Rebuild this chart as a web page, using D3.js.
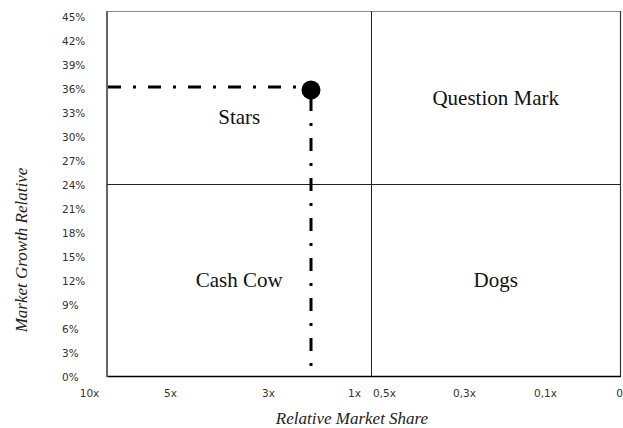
<!DOCTYPE html>
<html>
<head>
<meta charset="utf-8">
<script src="https://cdn.jsdelivr.net/npm/d3@7"></script>
<style>
  html, body { margin: 0; padding: 0; background: #fff; }
  svg { display: block; }
</style>
</head>
<body>
<svg id="chart" width="623" height="428"></svg>
<script>
// BCG growth-share matrix with one product position

// Relative market share ticks (high share on the left)
const shareTicks = [10, 5, 3, 1, 0.5, 0.3, 0.1, 0];
const shareTickLabels = ["10x", "5x", "3x", "1x", "0,5x", "0,3x", "0,1x", "0"];

// Market growth ticks (percent)
const growthTicks = [0, 3, 6, 9, 12, 15, 18, 21, 24, 27, 30, 33, 36, 39, 42, 45];

// Quadrant names: [top-left, top-right, bottom-left, bottom-right]
const quadrantNames = ["Stars", "Question Mark", "Cash Cow", "Dogs"];

// Product position
const productShare = [2];
const productGrowth = [36];

// Quadrant split values
const shareSplit = [0.72];
const growthSplit = [24];

const svg = d3.select("#chart");

// Layout
const frame = { left: 107, right: 620, top: 11, bottom: 376 };

const x = d3.scaleLinear()
  .domain(shareTicks)
  .range([89, 170, 268, 354, 384, 464, 545, 619]);

const y = d3.scaleLinear()
  .domain([0, 45])
  .range([frame.bottom, frame.top + 5]);

// Plot frame
const g = svg.append("g");
g.append("line") // top
  .attr("x1", frame.left).attr("x2", frame.right)
  .attr("y1", frame.top + 0.5).attr("y2", frame.top + 0.5)
  .attr("stroke", "#8a8a8a").attr("stroke-width", 1);
g.append("line") // right
  .attr("x1", frame.right + 0.5).attr("x2", frame.right + 0.5)
  .attr("y1", frame.top).attr("y2", frame.bottom)
  .attr("stroke", "#333").attr("stroke-width", 1.2);
g.append("line") // bottom
  .attr("x1", frame.left).attr("x2", frame.right + 1)
  .attr("y1", frame.bottom + 0.5).attr("y2", frame.bottom + 0.5)
  .attr("stroke", "#000").attr("stroke-width", 1.4);
g.append("line") // left
  .attr("x1", frame.left).attr("x2", frame.left)
  .attr("y1", frame.top).attr("y2", frame.bottom + 1)
  .attr("stroke", "#666").attr("stroke-width", 2);

// Quadrant dividers
const xSplit = Math.round(x(shareSplit[0])) + 0.5;
const ySplit = Math.round(y(growthSplit[0])) + 0.5;
g.append("line")
  .attr("x1", xSplit).attr("x2", xSplit)
  .attr("y1", frame.top).attr("y2", frame.bottom)
  .attr("stroke", "#222").attr("stroke-width", 1);
g.append("line")
  .attr("x1", frame.left).attr("x2", frame.right)
  .attr("y1", ySplit).attr("y2", ySplit)
  .attr("stroke", "#222").attr("stroke-width", 1);

// Quadrant labels
const quadCenters = [
  [(frame.left + xSplit) / 2, (frame.top + ySplit) / 2 + 19],
  [(xSplit + frame.right) / 2, (frame.top + ySplit) / 2],
  [(frame.left + xSplit) / 2, (ySplit + frame.bottom) / 2],
  [(xSplit + frame.right) / 2, (ySplit + frame.bottom) / 2]
];
g.selectAll("text.quad")
  .data(quadrantNames)
  .join("text")
  .attr("class", "quad")
  .attr("x", (d, i) => quadCenters[i][0])
  .attr("y", (d, i) => quadCenters[i][1])
  .attr("dy", "0.33em")
  .attr("text-anchor", "middle")
  .attr("font-family", "'Liberation Serif', 'Times New Roman', serif")
  .attr("font-size", 21)
  .attr("fill", "#111")
  .text(d => d);

// Y axis (labels left-aligned)
const yAxis = d3.axisLeft(y)
  .tickValues(growthTicks)
  .tickSize(0)
  .tickFormat(d => d + "%");
const yg = svg.append("g").attr("transform", "translate(62,1)").call(yAxis);
yg.select(".domain").remove();
yg.selectAll("text")
  .attr("x", 0)
  .attr("text-anchor", "start")
  .attr("font-family", "'DejaVu Sans', Verdana, sans-serif")
  .attr("font-size", 10.5)
  .attr("fill", "#333");

// X axis
const xAxis = d3.axisBottom(x)
  .tickValues(shareTicks)
  .tickSize(0)
  .tickFormat((d, i) => shareTickLabels[i]);
const xg = svg.append("g").attr("transform", `translate(0,${frame.bottom})`).call(xAxis);
xg.select(".domain").remove();
xg.selectAll("text")
  .attr("y", 21)
  .attr("dy", 0)
  .attr("font-family", "'DejaVu Sans', Verdana, sans-serif")
  .attr("font-size", 10.5)
  .attr("fill", "#333");

// Axis titles
svg.append("text")
  .attr("x", 352).attr("y", 424)
  .attr("text-anchor", "middle")
  .attr("font-family", "'Liberation Serif', 'Times New Roman', serif")
  .attr("font-style", "italic")
  .attr("font-size", 17)
  .attr("fill", "#222")
  .text("Relative Market Share");

svg.append("text")
  .attr("transform", "translate(27,250) rotate(-90)")
  .attr("text-anchor", "middle")
  .attr("font-family", "'Liberation Serif', 'Times New Roman', serif")
  .attr("font-style", "italic")
  .attr("font-size", 17)
  .attr("fill", "#222")
  .text("Market Growth Relative");

// Guide lines from the product position to the axes
const dashPattern = "13,12,3,12";
const pts = productShare.map((s, i) => ({ s, gr: productGrowth[i] }));

g.selectAll("line.guide-h")
  .data(pts)
  .join("line")
  .attr("class", "guide-h")
  .attr("x1", frame.left + 1).attr("x2", d => x(d.s))
  .attr("y1", d => y(d.gr) - 1).attr("y2", d => y(d.gr) - 1)
  .attr("stroke", "#000").attr("stroke-width", 3)
  .attr("stroke-dasharray", dashPattern);

g.selectAll("line.guide-v")
  .data(pts)
  .join("line")
  .attr("class", "guide-v")
  .attr("x1", d => x(d.s)).attr("x2", d => x(d.s))
  .attr("y1", d => y(d.gr) + 10).attr("y2", frame.bottom)
  .attr("stroke", "#000").attr("stroke-width", 3)
  .attr("stroke-dasharray", dashPattern);

g.selectAll("circle.product")
  .data(pts)
  .join("circle")
  .attr("class", "product")
  .attr("cx", d => x(d.s))
  .attr("cy", d => y(d.gr) + 2)
  .attr("r", 9.5)
  .attr("fill", "#000");
</script>
</body>
</html>
